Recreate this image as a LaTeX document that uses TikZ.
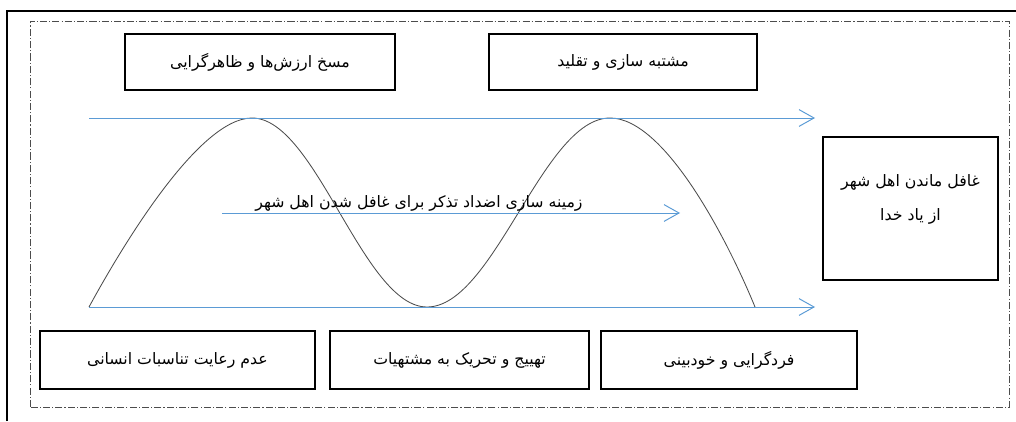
\documentclass[tikz,border=0pt]{standalone}
\usepackage{fontspec}
\newfontfamily\farsifont[Script=Arabic]{DejaVu Sans}
\TeXXeTstate=1
\usetikzlibrary{positioning,arrows.meta}
\definecolor{flowblue}{RGB}{91,155,213}
\newcommand{\fa}[1]{\beginR #1\endR}

\begin{document}
\begin{tikzpicture}[x=0.025cm,y=0.025cm,
      font=\farsifont\fontsize{11.2}{15}\selectfont,
      factor node/.style={rectangle,draw,line width=1.4pt,minimum height=1.4cm,inner sep=2pt},
      goal node/.style={rectangle,draw,line width=1.4pt,minimum width=4.375cm,minimum height=3.575cm,align=center,text depth=0.55cm},
      flow/.style={flowblue,line width=0.7pt,-{Straight Barb[length=0.375cm,width=0.42cm]}},
      wave/.style={draw=black!70,line width=0.6pt}]
  \useasboundingbox (0,0) rectangle (1016,421);
  % frames
  \draw[line width=0.9pt] (7,0) -- (7,410) -- (1016,410);
  \draw[black!70,line width=0.5pt,dash pattern=on 5pt off 1.5pt on 0.8pt off 1.5pt] (30,14) rectangle (1009,400);

  % top row
  \node[factor node,minimum width=6.75cm] (distort) at (260,359) {\fa{مسخ ارزش‌ها و ظاهرگرایی}};
  \node[factor node,minimum width=6.7cm] (imitate) [right=2.3cm of distort] {\fa{مشتبه سازی و تقلید}};

  % bottom row
  \node[factor node,minimum width=6.875cm,minimum height=1.45cm] (ratio) at (177.5,61) {\fa{عدم رعایت تناسبات انسانی}};
  \node[factor node,minimum width=6.475cm,minimum height=1.45cm] (excite) [right=0.325cm of ratio] {\fa{تهییج و تحریک به مشتهیات}};
  \node[factor node,minimum width=6.4cm,minimum height=1.45cm] (self) [right=0.25cm of excite] {\fa{فردگرایی و خودبینی}};

  % result
  \node[goal node] (goal) at (910.5,212.5) {\fa{غافل ماندن اهل شهر}\\[9pt]\fa{از یاد خدا}};

  \coordinate (top start) at (89,303);
  \coordinate (top end) at (815,303);
  \coordinate (low start) at (89,114);
  \coordinate (low end) at (815,114);
  \coordinate (mid start) at (222,208);
  \coordinate (mid end) at (680,208);

  % wave
  \draw[wave] (low start) .. controls (125,180) and (200,303) .. (252,303)
    .. controls (316,303) and (363,114) .. (427,114)
    .. controls (494,114) and (543,303) .. (610,303)
    .. controls (665,303) and (728,180) .. (755,114);

  \path[flow]
    (top start) edge (top end)
    (low start) edge (low end)
    (mid start) edge node[pos=0.43,above,inner sep=1pt,text=black] {\fa{زمینه سازی اضداد تذکر برای غافل شدن اهل شهر}} (mid end);
\end{tikzpicture}
\end{document}
